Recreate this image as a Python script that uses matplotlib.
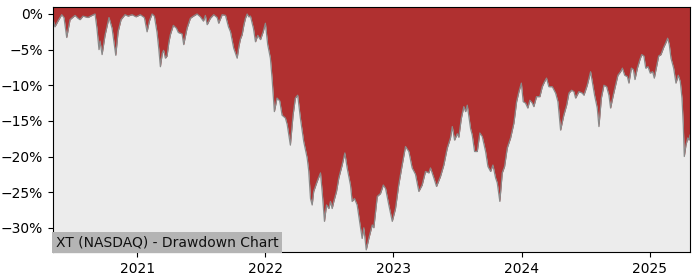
import pandas as pd
import matplotlib
matplotlib.use("Agg")
import matplotlib.pyplot as plt
import matplotlib.dates as mdates
from matplotlib.ticker import FuncFormatter

# drawdown values (decimal year, drawdown in %)
years = [
    2020.346, 2020.359, 2020.383, 2020.412, 2020.430, 2020.451, 2020.477, 2020.516,
    2020.539, 2020.555, 2020.578, 2020.617, 2020.648, 2020.672, 2020.687, 2020.703,
    2020.711, 2020.727, 2020.750, 2020.781, 2020.805, 2020.834, 2020.852, 2020.875,
    2020.906, 2020.930, 2020.961, 2020.992, 2021.023, 2021.055, 2021.076, 2021.094,
    2021.115, 2021.133, 2021.154, 2021.168, 2021.180, 2021.195, 2021.205, 2021.219,
    2021.232, 2021.246, 2021.258, 2021.281, 2021.305, 2021.320, 2021.349, 2021.362,
    2021.388, 2021.414, 2021.438, 2021.466, 2021.492, 2021.516, 2021.531, 2021.545,
    2021.570, 2021.596, 2021.623, 2021.635, 2021.662, 2021.688, 2021.711, 2021.727,
    2021.752, 2021.779, 2021.793, 2021.805, 2021.818, 2021.832, 2021.844, 2021.857,
    2021.870, 2021.883, 2021.896, 2021.906, 2021.922, 2021.940, 2021.961, 2021.982,
    2022.000, 2022.018, 2022.039, 2022.052, 2022.070, 2022.091, 2022.112, 2022.130,
    2022.156, 2022.170, 2022.195, 2022.216, 2022.234, 2022.252, 2022.273, 2022.299,
    2022.326, 2022.338, 2022.352, 2022.365, 2022.377, 2022.404, 2022.430, 2022.443,
    2022.461, 2022.477, 2022.495, 2022.508, 2022.521, 2022.534, 2022.555, 2022.573,
    2022.599, 2022.620, 2022.638, 2022.664, 2022.677, 2022.695, 2022.716, 2022.742,
    2022.755, 2022.768, 2022.787, 2022.807, 2022.834, 2022.846, 2022.873, 2022.898,
    2022.920, 2022.938, 2022.963, 2022.990, 2023.016, 2023.041, 2023.068, 2023.094,
    2023.120, 2023.146, 2023.172, 2023.198, 2023.224, 2023.250, 2023.276, 2023.289,
    2023.315, 2023.336, 2023.367, 2023.393, 2023.420, 2023.445, 2023.459, 2023.477,
    2023.498, 2023.510, 2023.529, 2023.549, 2023.563, 2023.576, 2023.602, 2023.615,
    2023.633, 2023.654, 2023.674, 2023.693, 2023.719, 2023.737, 2023.758, 2023.776,
    2023.797, 2023.810, 2023.830, 2023.849, 2023.867, 2023.888, 2023.914, 2023.940,
    2023.961, 2023.979, 2023.998, 2024.013, 2024.031, 2024.049, 2024.065, 2024.084,
    2024.096, 2024.117, 2024.143, 2024.162, 2024.180, 2024.195, 2024.213, 2024.240,
    2024.266, 2024.284, 2024.305, 2024.330, 2024.352, 2024.370, 2024.391, 2024.409,
    2024.422, 2024.448, 2024.474, 2024.487, 2024.513, 2024.539, 2024.552, 2024.570,
    2024.591, 2024.604, 2024.623, 2024.643, 2024.664, 2024.682, 2024.695, 2024.716,
    2024.734, 2024.752, 2024.773, 2024.787, 2024.805, 2024.826, 2024.838, 2024.857,
    2024.873, 2024.885, 2024.904, 2024.924, 2024.938, 2024.955, 2024.969, 2024.987,
    2025.002, 2025.021, 2025.034, 2025.055, 2025.068, 2025.086, 2025.107, 2025.125,
    2025.138, 2025.151, 2025.164, 2025.185, 2025.203, 2025.221, 2025.237, 2025.250,
    2025.260, 2025.268, 2025.281, 2025.295, 2025.305, 2025.312,
]
drawdown = [
    -0.85, -1.8, -1.0, -0.1, -0.5, -3.3, -0.8, -0.2,
    -0.6, -0.8, -0.3, -0.5, -0.2, 0.0, -2.0, -5.0,
    -3.8, -5.7, -3.0, -0.5, -2.0, -5.8, -2.5, -0.8,
    -0.1, -0.3, -0.1, -0.4, -0.1, -0.5, -2.5, -1.0,
    0.0, -0.3, -2.6, -5.0, -7.4, -5.5, -5.1, -6.2,
    -5.9, -4.0, -2.9, -1.6, -2.0, -2.6, -2.8, -4.3,
    -2.0, -0.6, -0.3, 0.0, -0.4, -1.0, -0.2, -1.5,
    -0.6, -0.1, -0.5, -1.3, -0.1, -0.2, -1.8, -2.5,
    -4.8, -6.2, -4.5, -3.5, -2.9, -1.5, -0.6, 0.0,
    -0.4, -0.3, -1.3, -2.0, -3.9, -3.0, -3.6, -2.5,
    -1.3, -4.3, -6.2, -9.0, -13.7, -11.8, -12.2, -14.2,
    -14.6, -15.5, -18.4, -14.2, -11.8, -11.4, -14.6, -17.9,
    -20.2, -22.0, -25.9, -26.8, -24.9, -23.5, -22.3, -24.9,
    -29.1, -26.8, -27.3, -26.3, -27.3, -26.3, -24.9, -23.0,
    -21.2, -19.5, -21.6, -24.0, -26.3, -25.9, -26.8, -30.0,
    -31.5, -30.0, -33.1, -31.5, -29.6, -30.0, -25.6, -25.2,
    -24.0, -24.5, -26.8, -29.1, -27.3, -24.0, -21.2, -18.6,
    -19.3, -21.6, -22.5, -24.9, -24.0, -22.1, -22.3, -21.6,
    -23.0, -24.2, -22.8, -21.2, -18.8, -17.4, -15.8, -17.7,
    -16.8, -17.3, -14.7, -13.0, -13.7, -12.8, -16.1, -17.0,
    -19.3, -19.3, -16.7, -17.2, -19.3, -21.4, -22.1, -21.2,
    -23.0, -23.7, -26.3, -22.3, -21.4, -18.8, -17.4, -15.3,
    -12.3, -10.9, -9.7, -12.3, -12.5, -13.2, -12.1, -12.5,
    -13.0, -11.6, -11.6, -10.2, -9.5, -9.0, -10.2, -10.2,
    -11.1, -12.3, -16.3, -14.2, -12.8, -11.1, -10.7, -10.9,
    -11.8, -10.9, -11.1, -11.4, -10.0, -8.1, -9.5, -11.4,
    -13.2, -15.8, -11.8, -10.0, -10.2, -11.4, -13.2, -11.4,
    -10.0, -8.6, -8.1, -7.6, -8.6, -8.8, -9.7, -7.6,
    -7.8, -9.2, -7.6, -6.4, -5.7, -5.9, -7.6, -7.4,
    -8.3, -8.1, -9.0, -7.1, -5.9, -5.7, -4.7, -4.0,
    -3.4, -4.3, -6.2, -7.6, -9.7, -8.6, -9.5, -11.8,
    -15.5, -20.0, -18.4, -17.4, -17.7, -17.0,
]
year_ticks = [2021, 2022, 2023, 2024, 2025]
title = "XT (NASDAQ) - Drawdown Chart"


def to_date(y):
    base = pd.Timestamp(year=int(y), month=1, day=1)
    return base + pd.Timedelta(days=(y - int(y)) * 365.25)


dates = [to_date(y) for y in years]

fig = plt.figure(figsize=(7, 2.8), dpi=100)
ax = fig.add_axes([0.0757, 0.1, 0.91, 0.875])
ax.set_facecolor("#ececec")

ymin, ymax = -33.4, 0.98
# red area runs from the curve up to the top of the axes
ax.fill_between(dates, drawdown, ymax, color="#b03030", linewidth=0)
ax.plot(dates, drawdown, color="#8a8a8a", linewidth=0.9)

ax.set_xlim(to_date(2020.344), to_date(2025.3125))
ax.set_ylim(ymin, ymax)
ax.set_yticks([0, -5, -10, -15, -20, -25, -30])
ax.yaxis.set_major_formatter(FuncFormatter(lambda v, p: f"{v:.0f}%".replace("-", "\u2212")))
ax.set_xticks([pd.Timestamp(year=y, month=1, day=1) for y in year_ticks])
ax.xaxis.set_major_formatter(mdates.DateFormatter("%Y"))
ax.tick_params(labelsize=10)

ax.text(0.004, 0.012, title, transform=ax.transAxes, fontsize=10, color="#111111",
        va="bottom", ha="left",
        bbox=dict(facecolor="#b4b4b4", edgecolor="none", pad=2.5))

fig.savefig("out.png", dpi=100)
